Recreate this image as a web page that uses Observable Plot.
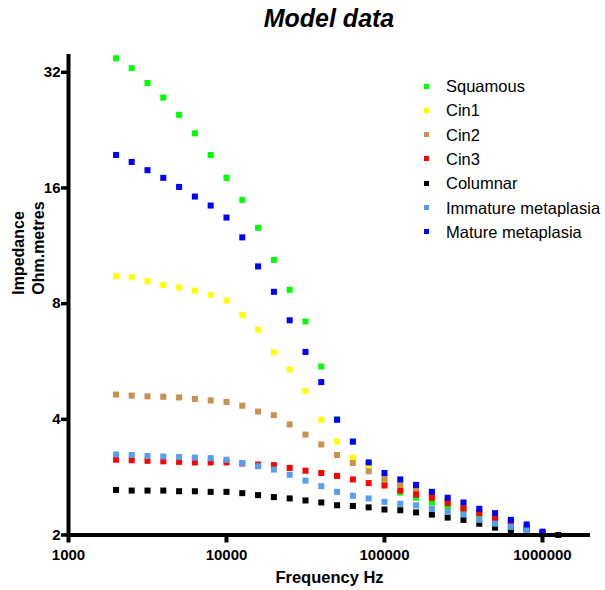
<!DOCTYPE html>
<html>
<head>
<meta charset="utf-8">
<script src="https://cdn.jsdelivr.net/npm/d3@7"></script>
<script src="https://cdn.jsdelivr.net/npm/@observablehq/plot@0.6"></script>
<style>
  html, body { margin: 0; padding: 0; background: #fff; }
  #wrap { position: relative; width: 605px; height: 590px; overflow: hidden; font-family: "Liberation Sans", Arial, sans-serif; }
  #title { position: absolute; left: 68px; width: 522px; top: 4px; text-align: center; font-size: 25px; font-weight: bold; font-style: italic; }
  #chart { position: absolute; left: 0; top: 40px; }
  #chart svg { font-family: "Liberation Sans", Arial, sans-serif; font-weight: bold; }
  .lg { position: absolute; left: 420px; height: 20px; line-height: 20px; font-size: 16.5px; white-space: nowrap; }
  .lg i { position: absolute; left: 4px; top: 7.5px; width: 5px; height: 5px; }
  .lg span { position: absolute; left: 26px; top: 0; }
</style>
</head>
<body>
<div id="wrap">
  <div id="title">Model data</div>
  <div id="chart"></div>
  <div id="legend"></div>
</div>
<script>
// Frequencies (Hz), 10 points per decade
const freq = [2000, 2512, 3162, 3981, 5012, 6310, 7943, 10000, 12589, 15849, 19953, 25119, 31623, 39811, 50119, 63096, 79433, 100000, 125893, 158489, 199526, 251189, 316228, 398107, 501187, 630957, 794328, 1000000, 1258925];

const seriesNames = ["Squamous", "Cin1", "Cin2", "Cin3", "Columnar", "Immature metaplasia", "Mature metaplasia"];
const seriesColors = ["#00ff00", "#ffff00", "#c8914c", "#ff0000", "#000000", "#559ff2", "#0000ff"];

const squamous = [34.8, 32.8, 30.0, 27.5, 24.8, 22.2, 19.5, 17.0, 14.9, 12.6, 10.4, 8.69, 7.19, 5.49, 4.00, 3.50, 3.05, 2.76, 2.58, 2.50, 2.43, 2.37, 2.32, 2.25, 2.18, 2.13, 2.08, 2.02];
const cin1 = [9.43, 9.37, 9.15, 8.95, 8.81, 8.65, 8.43, 8.15, 7.48, 6.84, 5.98, 5.39, 4.74, 3.99, 3.50, 3.18, 3.03, 2.79, 2.69, 2.61, 2.53, 2.46, 2.37, 2.30, 2.23, 2.17, 2.10, 2.03];
const cin2 = [4.64, 4.61, 4.59, 4.58, 4.56, 4.52, 4.48, 4.44, 4.34, 4.19, 4.10, 3.88, 3.65, 3.44, 3.23, 3.08, 2.93, 2.80, 2.71, 2.62, 2.55, 2.46, 2.38, 2.30, 2.23, 2.17, 2.10, 2.03];
const cin3 = [3.14, 3.13, 3.12, 3.11, 3.10, 3.09, 3.09, 3.09, 3.07, 3.05, 3.04, 2.99, 2.94, 2.90, 2.85, 2.79, 2.73, 2.69, 2.61, 2.55, 2.50, 2.42, 2.34, 2.28, 2.21, 2.15, 2.09, 2.02];
const columnar = [2.62, 2.61, 2.61, 2.61, 2.60, 2.60, 2.59, 2.59, 2.57, 2.54, 2.51, 2.49, 2.46, 2.43, 2.39, 2.38, 2.36, 2.33, 2.32, 2.29, 2.26, 2.22, 2.19, 2.14, 2.09, 2.06, 2.03, 2.01, 2.00];
const immature = [3.24, 3.23, 3.21, 3.20, 3.19, 3.18, 3.17, 3.14, 3.08, 3.02, 2.96, 2.87, 2.77, 2.68, 2.59, 2.53, 2.49, 2.44, 2.41, 2.39, 2.34, 2.30, 2.26, 2.19, 2.14, 2.10, 2.06, 2.02];
const mature = [19.5, 18.7, 17.8, 17.0, 16.1, 15.2, 14.4, 13.4, 11.9, 10.0, 8.59, 7.24, 5.99, 5.00, 3.99, 3.50, 3.09, 2.90, 2.79, 2.70, 2.59, 2.50, 2.43, 2.34, 2.28, 2.19, 2.13, 2.04];

const xTicks = [1000, 10000, 100000, 1000000];
const yTicks = [2, 4, 8, 16, 32];

const seriesValues = [squamous, cin1, cin2, cin3, columnar, immature, mature];
const rows = [];
seriesValues.forEach((vals, i) => {
  vals.forEach((v, k) => rows.push({series: seriesNames[i], f: freq[k], v}));
});

const chart = Plot.plot({
  width: 605,
  height: 550,
  marginLeft: 68,
  marginRight: 15,
  marginTop: 14,
  marginBottom: 55.5,
  style: {fontSize: "15px", fontFamily: "'Liberation Sans', Arial, sans-serif", fontWeight: "bold", background: "white", overflow: "visible"},
  x: {type: "log", domain: [1000, 2014000]},
  y: {type: "log", base: 2, domain: [2, 35.6]},
  color: {domain: seriesNames, range: seriesColors},
  marks: [
    Plot.axisX({ticks: xTicks, tickFormat: d => String(d), tickSize: 8, tickPadding: 6, strokeWidth: 4, label: null, fontSize: 15}),
    Plot.axisY({ticks: yTicks, tickFormat: d => String(d), tickSize: 7, tickPadding: 1, strokeWidth: 3.5, label: null, fontSize: 15}),
    Plot.dot(rows, {x: "f", y: "v", fill: "series", symbol: "square", r: 3.4, stroke: null}),
    Plot.ruleX([1000], {strokeWidth: 4, stroke: "black"}),
    Plot.ruleY([2], {strokeWidth: 4, stroke: "black"}),
    Plot.text(["Impedance\nOhm.metres"], {frameAnchor: "left", rotate: -90, dx: -41, fontSize: 16, lineHeight: 1.25, fontWeight: "bold"}),
    Plot.text(["Frequency Hz"], {frameAnchor: "bottom", dy: 47.5, fontSize: 16.5, fontWeight: "bold"})
  ]
});
document.getElementById("chart").appendChild(chart);

// Legend
const legend = document.getElementById("legend");
seriesNames.forEach((name, i) => {
  const row = document.createElement("div");
  row.className = "lg";
  row.style.top = (76 + 24.3 * i) + "px";
  const sw = document.createElement("i");
  sw.style.background = seriesColors[i];
  const t = document.createElement("span");
  t.textContent = name;
  row.appendChild(sw);
  row.appendChild(t);
  legend.appendChild(row);
});
</script>
</body>
</html>
